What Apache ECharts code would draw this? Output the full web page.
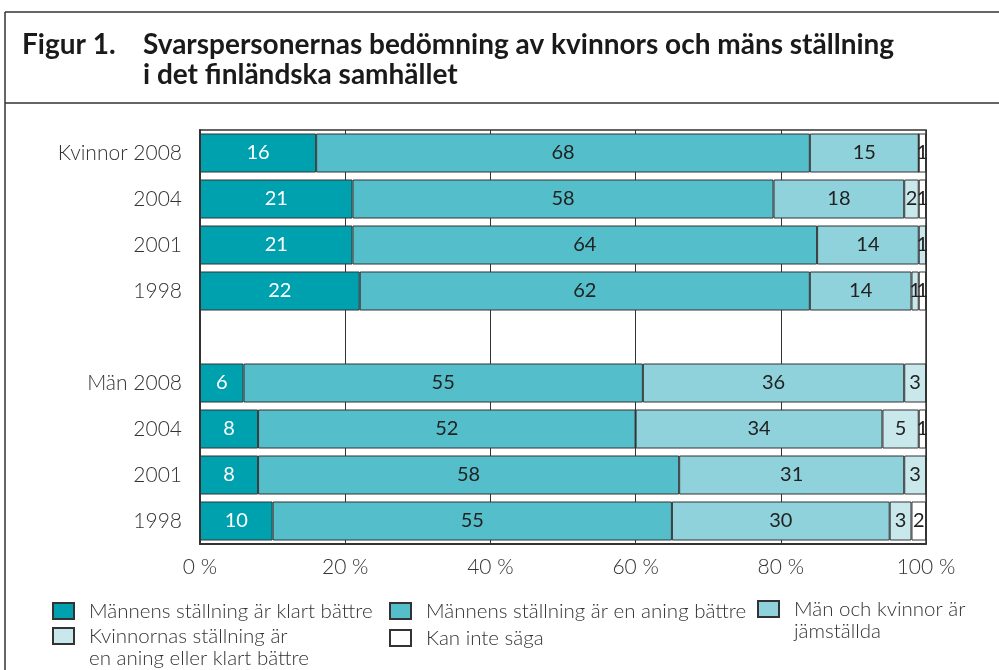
<!DOCTYPE html>
<html>
<head>
<meta charset="utf-8">
<script src="https://cdn.jsdelivr.net/npm/echarts@6/dist/echarts.min.js"></script>
<style>
  html, body { margin: 0; padding: 0; background: #fff; }
  #main { width: 999px; height: 670px; }
</style>
</head>
<body>
<div id="main"></div>
<script>
// kategorier (uppifrån och ned), tom rad mellan kvinnor och män
var categories = ['Kvinnor 2008', '2004', '2001', '1998', '', 'Män 2008', '2004', '2001', '1998'];

// andelar i procent
var klartBattre = [16, 21, 21, 22, '-', 6, 8, 8, 10];
var aningBattre = [68, 58, 64, 62, '-', 55, 52, 58, 55];
var jamstallda  = [15, 18, 14, 14, '-', 36, 34, 31, 30];
var kvinnornas  = [0, 2, 1, 1, '-', 3, 5, 3, 3];
var kanInte     = [1, 1, 0, 1, '-', 0, 1, 0, 2];

var seriesNames = [
  'Männens ställning är klart bättre',
  'Männens ställning är en aning bättre',
  'Män och kvinnor är\njämställda',
  'Kvinnornas ställning är\nen aning eller klart bättre',
  'Kan inte säga'
];
var seriesData = [klartBattre, aningBattre, jamstallda, kvinnornas, kanInte];
var colors = ['#00a1af', '#54bfca', '#8fd2db', '#c9e8ec', '#ffffff'];
var labelColors = ['#ffffff', '#222222', '#222222', '#222222', '#222222'];

var FONT = 'Lato, "Open Sans", sans-serif';

var myChart = echarts.init(document.getElementById('main'));

var series = seriesData.map(function (d, i) {
  return {
    name: seriesNames[i],
    type: 'bar',
    stack: 'total',
    barWidth: 39,
    data: d,
    itemStyle: { color: colors[i], borderColor: '#333', borderWidth: 1 },
    label: {
      show: true,
      position: 'inside',
      color: labelColors[i],
      fontFamily: FONT,
      fontSize: 20,
      formatter: function (p) { return p.value > 0 ? p.value : ''; }
    }
  };
});

// en legend per post, placerad i rutnät som i originalet
// tvåradiga poster: en tom rad först så att första raden hamnar mitt för ikonen
function legendAt(name, left, top, multi) {
  return {
    data: [name],
    left: left,
    top: top,
    padding: 0,
    itemWidth: 21,
    itemHeight: 16,
    icon: 'rect',
    selectedMode: false,
    formatter: function (n) { return multi ? '\n' + n : n; },
    textStyle: {
      fontFamily: FONT,
      fontWeight: 300,
      fontSize: 20.5,
      color: '#333',
      lineHeight: 22,
      padding: [0, 0, 0, 10]
    }
  };
}

var titleStyle = { fontFamily: FONT, fontWeight: 'bold', fontSize: 28, lineHeight: 30, color: '#1a1a1a' };

var option = {
  animation: false,
  backgroundColor: '#fff',
  title: [
    { text: 'Figur 1.', left: 22, top: 30, padding: 0, textStyle: titleStyle },
    {
      text: 'Svarspersonernas bedömning av kvinnors och mäns ställning\ni det finländska samhället',
      left: 143, top: 30, padding: 0, textStyle: titleStyle
    }
  ],
  graphic: [
    { type: 'line', shape: { x1: 5, y1: 12, x2: 999, y2: 12 }, style: { stroke: '#333', lineWidth: 1.5 } },
    { type: 'line', shape: { x1: 5, y1: 12, x2: 5, y2: 670 }, style: { stroke: '#333', lineWidth: 1.5 } },
    { type: 'line', shape: { x1: 5, y1: 103, x2: 999, y2: 103 }, style: { stroke: '#333', lineWidth: 1.5 } }
  ],
  legend: [
    legendAt(seriesNames[0], 52, 600, false),
    legendAt(seriesNames[1], 389, 600, false),
    legendAt(seriesNames[2], 757, 576, true),
    legendAt(seriesNames[3], 52, 603, true),
    legendAt(seriesNames[4], 389, 627, false)
  ],
  grid: {
    left: 200, right: 73, top: 130, bottom: 126,
    show: true, borderColor: '#333', borderWidth: 1.5
  },
  xAxis: {
    type: 'value',
    min: 0, max: 100, interval: 20,
    axisLine: { show: true, lineStyle: { color: '#333', width: 2 } },
    axisTick: { show: false },
    splitLine: { show: true, lineStyle: { color: '#333', width: 1 } },
    axisLabel: {
      formatter: '{value} %',
      fontFamily: FONT, fontWeight: 300, fontSize: 21, color: '#333', margin: 13
    }
  },
  yAxis: {
    type: 'category',
    inverse: true,
    data: categories,
    axisLine: { show: true, lineStyle: { color: '#333', width: 2 } },
    axisTick: { show: false },
    axisLabel: { fontFamily: FONT, fontWeight: 300, fontSize: 21, color: '#333', margin: 18 }
  },
  series: series
};

myChart.setOption(option);
</script>
</body>
</html>
